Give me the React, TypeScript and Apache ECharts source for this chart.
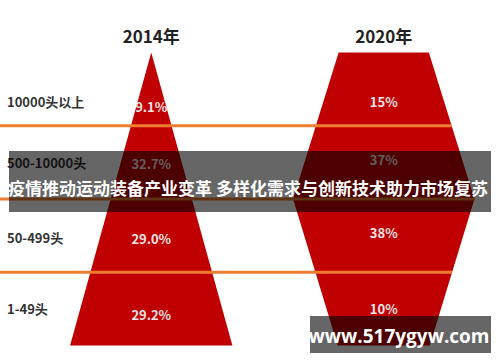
import React, { useEffect, useRef } from "react";
import * as echarts from "echarts";

// ---- data ----
const years = ["2014年", "2020年"];
const tiers = ["10000头以上", "500-10000头", "50-499头", "1-49头"];
const share2014 = [9.1, 32.7, 29.0, 29.2];
const share2020 = [15, 37, 38, 10];
const pctDecimals = [1, 0];
const bannerTitle = "疫情推动运动装备产业变革 多样化需求与创新技术助力市场复苏";
const watermark = "www.517ygyw.com";

// ---- layout / style ----
const FONT = "'Noto Sans CJK SC', 'Noto Sans', sans-serif";
const RED = "#C00000";
const ORANGE = "#ED7D31";
// shape outline: [tier level, half width as a fraction of the year's band]
const SHAPE_PROFILES: number[][][] = [
  [[0, 0], [4, 0.349]],
  [[0, 0.194], [2, 0.39], [4, 0.198]],
];
// pixel shifts of the labels from each tier's centre
const PCT_SHIFT = [
  [17, 1, 3, 6],
  [12, -3, -3, 0],
];
const TIER_SHIFT = [12, 0, 2, 0];

function halfAt(profile: number[][], level: number) {
  for (let i = 0; i < profile.length - 1; i++) {
    const [y0, h0] = profile[i];
    const [y1, h1] = profile[i + 1];
    if (level >= y0 && level <= y1) {
      return h0 + ((level - y0) / (y1 - y0)) * (h1 - h0);
    }
  }
  return profile[profile.length - 1][1];
}

export default function App() {
  const ref = useRef<HTMLDivElement>(null);

  useEffect(() => {
    if (!ref.current) return;
    const chart = echarts.init(ref.current, null, { renderer: "svg" });

    const shares = [share2014, share2020];
    const pctData: number[][] = [];
    shares.forEach((arr, yi) =>
      arr.forEach((v, ti) => pctData.push([yi, ti + 0.5, v, ti]))
    );
    const tierData = tiers.map((_, ti) => [0, ti + 0.5, ti]);
    const boundaries = tiers.slice(1).map((_, i) => [years.length - 1, i + 1]);

    const option: any = {
      animation: false,
      backgroundColor: "#ffffff",
      grid: { left: 35, right: -25, top: 52.5, bottom: 16.5 },
      xAxis: {
        type: "category",
        data: years,
        position: "top",
        axisLine: { show: false },
        axisTick: { show: false },
        splitLine: { show: false },
        axisLabel: {
          margin: 9,
          fontSize: 17,
          fontWeight: "bold",
          color: "#222222",
          fontFamily: FONT,
        },
      },
      yAxis: { type: "value", min: 0, max: 4, inverse: true, show: false },
      series: [
        {
          type: "custom",
          name: "shapes",
          z: 2,
          data: years.map((_, i) => [i]),
          encode: { x: 0 },
          renderItem: (params: any, api: any) => {
            const yi = api.value(0);
            const prof = SHAPE_PROFILES[yi];
            const band = api.size([1, 0])[0];
            const right = prof.map(([lv, h]) => {
              const p = api.coord([yi, lv]);
              return [p[0] + h * band, p[1]];
            });
            const left = prof
              .slice()
              .reverse()
              .map(([lv, h]) => {
                const p = api.coord([yi, lv]);
                return [p[0] - h * band, p[1]];
              });
            return {
              type: "polygon",
              shape: { points: right.concat(left) },
              style: { fill: RED },
            };
          },
        },
        {
          type: "custom",
          name: "lines",
          z: 3,
          data: boundaries,
          encode: { x: 0, y: 1 },
          renderItem: (params: any, api: any) => {
            const yi = api.value(0);
            const lv = api.value(1);
            const band = api.size([1, 0])[0];
            const p = api.coord([yi, lv]);
            const xEnd = p[0] + halfAt(SHAPE_PROFILES[yi], lv) * band;
            return {
              type: "line",
              shape: { x1: 0, y1: p[1], x2: xEnd, y2: p[1] },
              style: { stroke: ORANGE, lineWidth: 3 },
            };
          },
        },
        {
          type: "custom",
          name: "pct",
          z: 4,
          data: pctData,
          encode: { x: 0, y: 1 },
          renderItem: (params: any, api: any) => {
            const yi = api.value(0);
            const ti = api.value(3);
            const v = api.value(2);
            const p = api.coord([yi, api.value(1)]);
            return {
              type: "text",
              x: p[0],
              y: p[1] + PCT_SHIFT[yi][ti],
              style: {
                text: v.toFixed(pctDecimals[yi]) + "%",
                fill: "#f6e4e4",
                fontSize: 13,
                fontWeight: "bold",
                fontFamily: FONT,
                align: "center",
                verticalAlign: "middle",
              },
            };
          },
        },
        {
          type: "custom",
          name: "tiers",
          z: 4,
          data: tierData,
          encode: { x: 0, y: 1 },
          renderItem: (params: any, api: any) => {
            const ti = api.value(2);
            const p = api.coord([0, api.value(1)]);
            return {
              type: "text",
              x: 7,
              y: p[1] + TIER_SHIFT[ti],
              style: {
                text: tiers[ti],
                fill: "#333333",
                fontSize: 13,
                fontWeight: "bold",
                fontFamily: FONT,
                align: "left",
                verticalAlign: "middle",
              },
            };
          },
        },
      ],
      graphic: [
        {
          type: "rect",
          z: 100,
          shape: { x: 9, y: 151, width: 482, height: 61 },
          style: { fill: "rgba(0,0,0,0.6)" },
        },
        {
          type: "text",
          z: 101,
          x: 248,
          y: 187,
          style: {
            text: bannerTitle,
            fill: "#ffffff",
            fontSize: 17,
            fontWeight: "bold",
            fontFamily: FONT,
            align: "center",
            verticalAlign: "middle",
          },
        },
        {
          type: "rect",
          z: 100,
          shape: { x: 310, y: 316, width: 181, height: 37 },
          style: { fill: "rgba(0,0,0,0.6)" },
        },
        {
          type: "text",
          z: 101,
          x: 399,
          y: 336,
          style: {
            text: watermark,
            fill: "#ffffff",
            fontSize: 19,
            fontWeight: "bold",
            fontFamily: "'Open Sans', 'DejaVu Sans', sans-serif",
            align: "center",
            verticalAlign: "middle",
          },
        },
      ],
    };

    chart.setOption(option);
    return () => chart.dispose();
  }, []);

  return (
    <div
      ref={ref}
      style={{ position: "fixed", left: 0, top: 0, width: 500, height: 362 }}
    />
  );
}
